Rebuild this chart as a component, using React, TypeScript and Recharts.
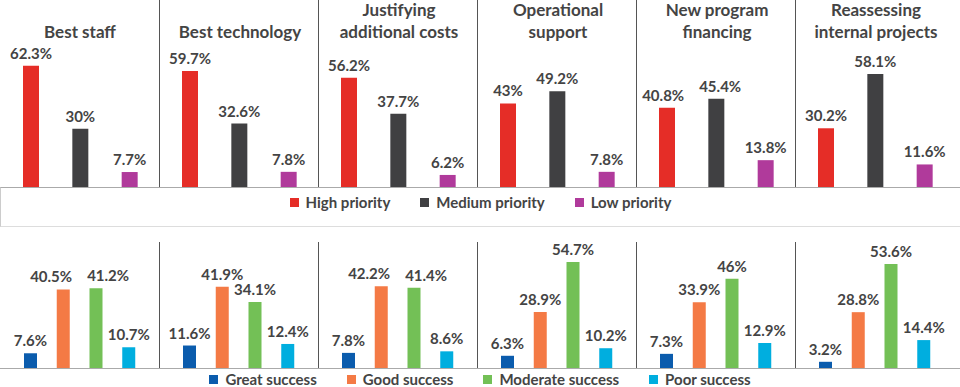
import { BarChart, Bar, XAxis, YAxis, Cell, LabelList } from "recharts";

const panels = [
  "Best staff",
  "Best technology",
  "Justifying\nadditional costs",
  "Operational\nsupport",
  "New program\nfinancing",
  "Reassessing\ninternal projects",
];

const prioritySeries = ["High priority", "Medium priority", "Low priority"];
const priorityColors = ["#E52D27", "#404042", "#B03A9B"];
const highPriority = [62.3, 59.7, 56.2, 43, 40.8, 30.2];
const mediumPriority = [30, 32.6, 37.7, 49.2, 45.4, 58.1];
const lowPriority = [7.7, 7.8, 6.2, 7.8, 13.8, 11.6];

const successSeries = ["Great success", "Good success", "Moderate success", "Poor success"];
const successColors = ["#0B5CAD", "#F47A45", "#73C056", "#00AEDF"];
const greatSuccess = [7.6, 11.6, 7.8, 6.3, 7.3, 3.2];
const goodSuccess = [40.5, 41.9, 42.2, 28.9, 33.9, 28.8];
const moderateSuccess = [41.2, 34.1, 41.4, 54.7, 46, 53.6];
const poorSuccess = [10.7, 12.4, 8.6, 10.2, 12.9, 14.4];

const FONT = "Lato, 'Open Sans', sans-serif";
const TEXT = "#444444";
const PANEL_W = 160;
const LABEL_SIZE = 15;

const pct = (v: unknown) => `${v}%`;

// push apart labels of neighbouring bars whose tops are at about the same height
function labelShifts(values: number[], band: number, pxPerUnit: number) {
  const shifts = values.map(() => 0);
  for (let i = 0; i < values.length - 1; i++) {
    const dy = Math.abs(values[i] - values[i + 1]) * pxPerUnit;
    const wA = pct(values[i]).length * LABEL_SIZE * 0.52;
    const wB = pct(values[i + 1]).length * LABEL_SIZE * 0.52;
    const need = (wA + wB) / 2 + 18 - band;
    if (dy < LABEL_SIZE && need > 0) {
      shifts[i] -= need / 2;
      shifts[i + 1] += need / 2;
    }
  }
  return shifts;
}

function Panel({
  rows,
  colors,
  height,
  domainMax,
  margin,
}: {
  rows: { name: string; value: number }[];
  colors: string[];
  height: number;
  domainMax: number;
  margin: { top: number; left: number; right: number; bottom: number };
}) {
  const band = (PANEL_W - margin.left - margin.right) / rows.length;
  const pxPerUnit = (height - margin.top - margin.bottom) / domainMax;
  const shifts = labelShifts(
    rows.map((r) => r.value),
    band,
    pxPerUnit
  );
  return (
    <BarChart width={PANEL_W} height={height} data={rows} margin={margin} barCategoryGap={0}>
      <XAxis dataKey="name" hide />
      <YAxis hide domain={[0, domainMax]} />
      <Bar dataKey="value" barSize={rows.length === 3 ? 16 : 13} isAnimationActive={false}>
        {rows.map((r, i) => (
          <Cell key={r.name} fill={colors[i]} />
        ))}
        <LabelList
          dataKey="value"
          content={(props: any) => {
            const { x, y, width, value, index } = props;
            return (
              <text
                x={Number(x) + Number(width) / 2 + (shifts[index] || 0)}
                y={Number(y) - 7}
                textAnchor="middle"
                style={{ fontFamily: FONT, fontSize: LABEL_SIZE, fontWeight: 700, fill: TEXT }}
              >
                {pct(value)}
              </text>
            );
          }}
        />
      </Bar>
    </BarChart>
  );
}

function Legend({ names, colors }: { names: string[]; colors: string[] }) {
  return (
    <div
      style={{
        display: "flex",
        justifyContent: "center",
        gap: 30,
        fontFamily: FONT,
        fontWeight: 700,
        fontSize: 15,
        lineHeight: "12px",
        color: TEXT,
      }}
    >
      {names.map((n, i) => (
        <div key={n} style={{ display: "flex", alignItems: "center", gap: 7 }}>
          <span style={{ width: 9, height: 9, background: colors[i], display: "inline-block" }} />
          <span>{n}</span>
        </div>
      ))}
    </div>
  );
}

export default function App() {
  const topRows = panels.map((_, p) =>
    [highPriority[p], mediumPriority[p], lowPriority[p]].map((value, i) => ({ name: prioritySeries[i], value }))
  );
  const bottomRows = panels.map((_, p) =>
    [greatSuccess[p], goodSuccess[p], moderateSuccess[p], poorSuccess[p]].map((value, i) => ({
      name: successSeries[i],
      value,
    }))
  );

  return (
    <div
      style={{
        position: "absolute",
        left: 0,
        top: 0,
        width: 960,
        height: 387,
        background: "#fff",
        overflow: "hidden",
      }}
    >
      {/* top row */}
      <div style={{ position: "absolute", left: 0, top: 0, display: "flex" }}>
        {panels.map((title, p) => (
          <div
            key={title}
            style={{
              position: "relative",
              width: PANEL_W,
              height: 188,
              boxSizing: "border-box",
              borderLeft: p > 0 ? "1px solid #555" : "none",
              marginLeft: p > 0 ? -1 : 0,
            }}
          >
            <div
              style={{
                position: "absolute",
                left: 0,
                width: PANEL_W,
                bottom: 188 - 43,
                textAlign: "center",
                whiteSpace: "pre-line",
                lineHeight: "22px",
                fontFamily: FONT,
                fontWeight: 700,
                fontSize: 17,
                color: TEXT,
              }}
            >
              {title}
            </div>
            <div style={{ position: "absolute", left: p > 0 ? -1 : 0, top: 0 }}>
              <Panel
                rows={topRows[p]}
                colors={priorityColors}
                height={187}
                domainMax={90}
                margin={{ top: 12, left: 6, right: 6, bottom: 0 }}
              />
            </div>
          </div>
        ))}
      </div>

      {/* top legend box */}
      <div
        style={{
          position: "absolute",
          left: 0,
          top: 187,
          width: 960,
          height: 40,
          boxSizing: "border-box",
          borderTop: "1px solid #aaa",
          borderLeft: "1px solid #ccc",
          borderBottom: "1px solid #ddd",
          display: "flex",
          alignItems: "flex-start",
          justifyContent: "center",
          paddingTop: 8,
        }}
      >
        <Legend names={prioritySeries} colors={priorityColors} />
      </div>

      {/* bottom row */}
      <div style={{ position: "absolute", left: 0, top: 242, display: "flex" }}>
        {panels.map((title, p) => (
          <div
            key={title}
            style={{
              position: "relative",
              width: PANEL_W,
              height: 126,
              boxSizing: "border-box",
              borderLeft: p > 0 ? "1px solid #555" : "none",
              marginLeft: p > 0 ? -1 : 0,
            }}
          >
            <div style={{ position: "absolute", left: p > 0 ? -1 : 0, top: -14 }}>
              <Panel
                rows={bottomRows[p]}
                colors={successColors}
                height={140}
                domainMax={65}
                margin={{ top: 14, left: 14, right: 15, bottom: 0 }}
              />
            </div>
          </div>
        ))}
      </div>
      <div
        style={{ position: "absolute", left: 0, top: 368, width: 960, height: 0, borderTop: "1px solid #aaa" }}
      />

      {/* bottom legend */}
      <div style={{ position: "absolute", left: 0, top: 373, width: 960 }}>
        <Legend names={successSeries} colors={successColors} />
      </div>
    </div>
  );
}
